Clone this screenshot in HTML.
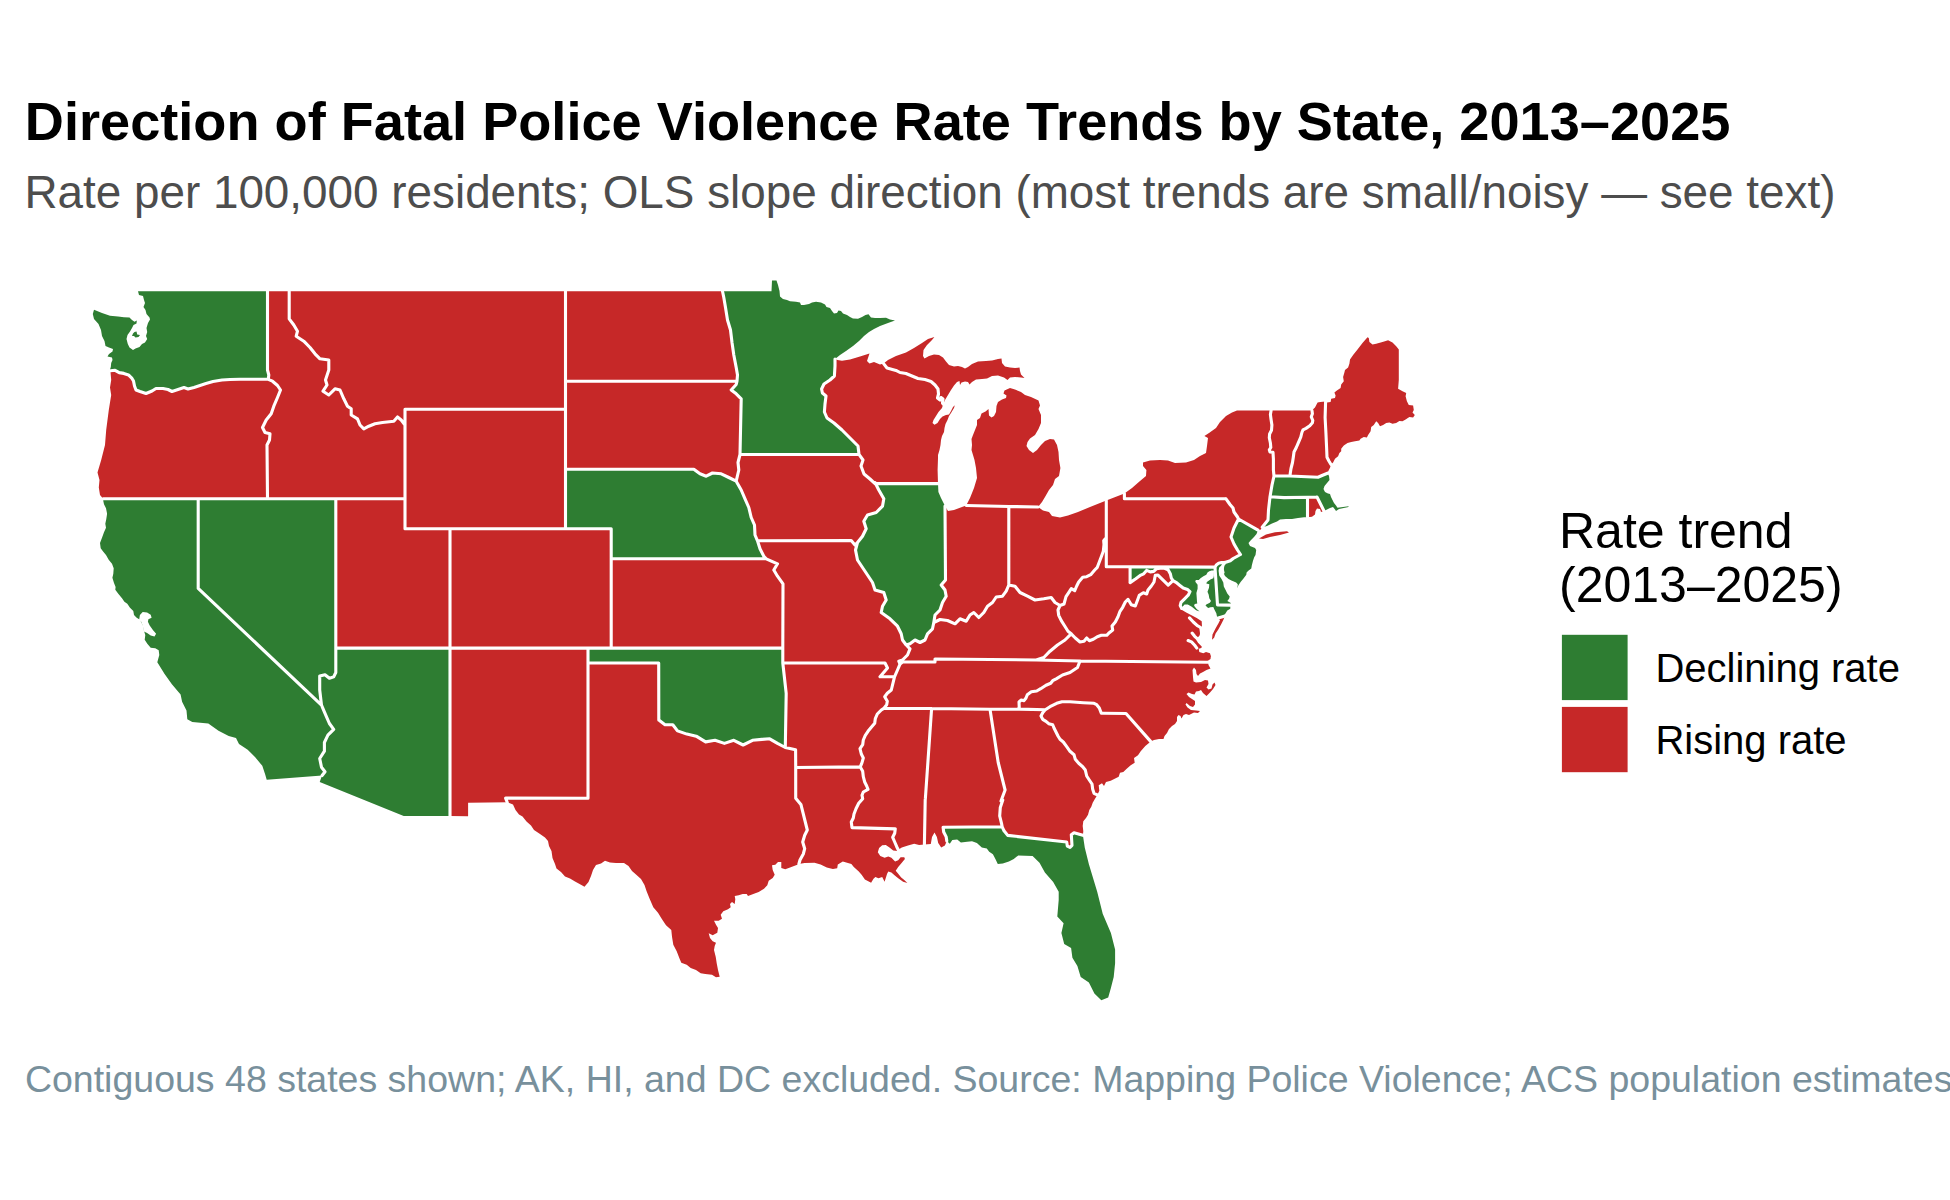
<!DOCTYPE html>
<html lang="en"><head><meta charset="utf-8"><title>Direction of Fatal Police Violence Rate Trends by State, 2013–2025</title>
<style>
html,body{margin:0;padding:0;background:#fff}
body{width:1950px;height:1200px;overflow:hidden;position:relative;font-family:"Liberation Sans",Arial,Helvetica,sans-serif}
svg{position:absolute;left:0;top:0}
text{font-family:"Liberation Sans",Arial,Helvetica,sans-serif}
</style></head><body>
<svg width="1950" height="1200" viewBox="0 0 1950 1200">
<rect width="1950" height="1200" fill="#fff"/>
<g id="map">
<path fill="#c62828" fill-rule="evenodd" d="M138,291.3 139,295 143,296 144,300 145,303 143.5,307 145.5,310 146.5,314 149.5,317.5 150,319.5 148,323 146.5,328 147.2,332 146,336 147.2,339 145,342.5 142,344 139.5,347 135.5,348.5 133,350 129.5,347.5 127.8,344 126.5,339 127.5,335 130,331.5 132,328 133.5,325 136.5,323.5 136.8,320.5 134.5,321.8 132,320 129.5,317.5 124,317.2 118,316.5 110,315.8 102,313 94,309.8 92.8,314 94,319 98.5,324 101,330 102,336 104.5,341 105.5,346 109,347.5 113,349 112.5,351.5 109,354 107.5,356.5 112,357.5 112.5,360 111.2,363 110.8,367 110,369.5 110.4,370.8 111.2,380 110,387.5 111.2,395 108.8,410 106.2,430 105,445 101.2,460 97.5,472.5 99.5,480 98.8,487.5 100,495 103.2,498.8 103.3,501 104,504.3 106,508.3 107.1,513.7 106.3,519 105.3,523.7 106,527.7 104,532.3 102,537.7 100,543 100.7,548.3 103.3,551.7 106,555 108.7,559.7 112,563.7 113.7,568.3 113.3,573.7 112.4,577.7 114,583 115.6,587 115.3,589.7 118.7,594.3 122,598.3 124.4,601.7 127.3,603.7 130,607.7 133.3,611 134,615 136.7,617.7 140,619.7 143.3,626.3 144,631 145.3,635 144.7,639.7 147.3,643.7 150.7,647.7 155.3,648.3 158.7,650.3 159.3,655 157.3,662.3 164.6,674 171.9,684.2 180.6,694.4 182.1,701.7 186.5,710.4 187.3,719.2 192.3,722.1 208.3,723.5 218.5,730.8 228.7,736.1 236,738.1 239,744 247.7,749.8 255,757.1 262.3,765.8 265.2,774.6 266.7,779.8 322.1,775.5 319.7,781.9 403.7,816 450,816 468.1,816.2 468.1,802.8 507.2,802.2 513,804.5 515.5,810 519,814.5 522.5,816.5 526.5,821.5 531,825.5 534,830 540,834 545,837.5 548,841 549,846 551.5,851 552.5,858 555,864 556.5,868.5 561,872 565,876.5 570,878.5 575,881.5 580.5,884.5 584.5,886.8 588.5,882 591,876 593,870 596,865 601,863.5 605,860.8 610,862.5 616,863 624,863 628.5,866 632,871 636,874.5 641,879 644.5,885 646.5,891 649.3,898 653.3,907.3 658,912.7 662,919.3 666,925.3 671.3,930 672,936.7 673.3,944.7 676.7,951.3 679.3,958 681.3,962.7 686.7,964.7 690.7,968 696,970 700.7,973.3 705.3,974 712,974.7 716,977.3 719.7,976.7 718,970 716.7,963.3 715.7,956.7 714,950 714.7,946 716,942.7 712.7,941.3 710,938 708.7,933.3 712.7,935.3 717.3,932.7 718,928 716,924.7 714,920.7 718.7,920.7 722,918.7 720.7,914.7 723.3,911.3 728,909.3 730.7,907.3 730,904 732,902 734.7,904 735.3,899.3 734.7,896 738.7,895.3 742.7,894 746.7,894 748,896 753.3,894 758.7,892 764,888.7 767.3,885.3 768.7,880.7 772.7,878 774.7,874.7 772.7,870 772,865.3 775.3,864.7 778,862 781.3,862 781.3,868 785.3,869.3 790.7,867.3 797.3,864.7 798.9,864 804.6,863 814.5,862.8 820.6,864.6 826.8,867.4 832.9,868.9 837.2,868.3 837.8,864.6 842.8,861.5 847.1,862.8 851.4,864 853.8,867.1 858.8,871.4 861.8,875.1 864.9,879.4 871.1,882.7 873.5,878.8 875.4,876.9 878.5,878.2 882.2,876.9 884.6,881.8 887.1,873.8 888.3,871.4 891.4,872.6 895.1,875.7 898.2,878.2 903.1,881.8 907.4,883.1 904.3,880 901.2,877.5 898.2,873.8 895.7,870.8 898.2,867.1 901.8,862.8 904.9,859.1 904.3,857.2 900.6,857.2 898.2,860.3 895.1,861.5 891.4,857.8 888.3,856.6 884.6,857.8 880.3,856 877.8,852.3 879.1,848 882.2,845.3 885.8,844.9 889.5,847.4 893.2,850.5 897.5,851.1 898.2,849.8 901.8,847.4 908,845.5 914.2,843.7 919.1,844.9 924.4,844.6 930.8,844.1 932,836.9 934.5,832.6 936.9,836.9 938.2,843.1 941.2,847.4 944.9,845.5 946.8,840.9 949.8,843.7 952.3,840 957.2,839.4 960.9,842.5 967.1,841.8 972,841.2 976.9,843.1 981.8,847.4 986.8,848.6 989.2,851.7 992.9,854.2 995.4,859.1 997.8,864 1002.8,863.4 1008.9,861.5 1013.8,859.1 1018.2,855.4 1032.6,855.9 1039.5,862.8 1044.9,872.4 1053.2,882.1 1058.7,891.7 1058.7,899.9 1057.3,916.4 1063.6,923.3 1061.4,932.9 1064.2,943.9 1071.1,948 1072.4,957.7 1077.4,965.9 1080.7,976.9 1088.9,982.4 1094.4,993.4 1101.3,1000.3 1108.2,997.5 1110.9,987.9 1113.7,976.9 1115.1,963.2 1115.1,949.4 1110.9,932.9 1102.7,913.7 1097.2,891.7 1088.9,864.2 1084.8,847.7 1082.9,835.3 1083.3,831.3 1082.7,826 1083.3,821.3 1086,818 1088,814.7 1089.3,810 1091.3,806.7 1092.7,802.7 1094.7,799.3 1097.3,794.9 1099.3,790.7 1098.7,785.3 1102,783.3 1104,786 1106,782 1110.7,780.7 1114.7,778.7 1118.7,776.7 1120,772.7 1123.3,772 1126.7,768.7 1130.7,765.3 1134.7,762.7 1134,758 1138,755.3 1140.7,751.3 1145.3,746 1150.8,741.6 1154,740 1159,739 1163.5,739 1164.5,736 1167,733 1169,729 1172,726 1175,724 1177,721 1177,717 1178.5,715 1180.5,716 1181.5,718.5 1183.5,715 1186,714 1189,715 1194,712.5 1198,713 1200,711 1196,710.5 1191,710 1187.5,707.5 1185.5,704.5 1186.5,703 1190,706 1193,707 1195,704.5 1195,701 1192,699 1189,697 1186.5,694 1188.5,692.5 1192,694 1194.5,694.5 1196,691.5 1199,691 1201,690 1203,693 1206.5,696 1210,692.5 1213,689 1215.5,685 1214.5,682.5 1212.5,684.5 1211.5,688.5 1208.5,689.5 1206.5,687.5 1208.5,684 1208,680.5 1205,680 1201,682 1196,682.5 1193.5,681.5 1193,677 1192.5,670 1194,667.5 1196,670 1196.5,674 1198,676 1200,673.5 1203,672 1206.5,670 1210.5,668.5 1208.5,665 1208.1,662.2 1207.5,661 1210.5,659 1211,655 1211,656.7 1210,653.3 1206,652 1203.3,653.3 1199.3,652 1198.7,648.7 1201.3,648 1201.9,646.7 1198,642.7 1196.3,640 1198,637.3 1199.7,635.3 1200,633.3 1199.3,628 1202,627 1201.7,621.2 1196.7,618.1 1192,615.5 1186.7,612.7 1182,610 1181.7,608.5 1182.5,606.8 1184.6,604.5 1187.8,604.5 1191.8,606.7 1196.1,610.3 1199.6,611.6 1196.4,608.7 1194.1,605.8 1194.7,604 1197.3,603.4 1197,601.7 1196.7,597 1196.4,592.9 1197.6,588.8 1197.6,584.8 1195.3,581.8 1195.8,580.1 1198.8,580.1 1200.5,578.3 1203.4,576.3 1206.3,574.8 1207.5,572.5 1209.3,571.3 1211.6,570.5 1214,570.6 1213.9,576 1213.3,578.3 1210.4,579.5 1206.9,582.1 1206.3,583.6 1209.3,584.2 1209,587.7 1207.5,591.8 1208.7,594.7 1209.3,598.2 1211,601.1 1209.8,602.8 1206.3,604.6 1205.5,605.5 1208.1,608.1 1210.4,607.2 1213.3,606.9 1214.5,609.8 1216.3,613.3 1217.4,618.3 1220.1,620.1 1218.5,623.2 1215.5,628.5 1212.5,634.5 1212,639.7 1214.1,637.7 1215.6,633.6 1218.3,629.6 1221.3,624.1 1223.3,620.1 1225,616 1223.8,615.7 1225.6,613.3 1227.3,610.4 1230.3,608.7 1230.3,605.1 1230.8,603.1 1227.3,601.1 1229.1,598.8 1229.7,596.4 1227.3,593.5 1225.6,590 1223.8,586.5 1223.3,582.4 1221.5,578.9 1219.2,575.4 1218.6,570.8 1219.2,567.5 1221.5,565.2 1223.8,567.8 1223.3,572.5 1225,576 1228.5,578.9 1232,580.7 1236.1,582.4 1237.8,584.2 1237.4,588.3 1238.4,585.3 1240.8,581.8 1243.7,578.3 1246.3,574.8 1246.6,572.5 1248.3,570.8 1251.3,568.4 1251.8,565.5 1253,560.8 1254.2,557.3 1255.5,555 1256.2,550 1255,548 1250,546 1248.5,543 1251,540 1254,537 1256.5,534 1258,530.2 1260,530 1261.2,529 1262.2,527.2 1267,526 1272,523.5 1277,521.5 1280,519.5 1286,519 1292,519 1298,518 1304,517.2 1307.5,517.3 1312,516.8 1315,514.5 1315.5,511 1317,508.5 1320,509 1321,512 1324,511 1326,510 1330,508 1333,507 1335,509.5 1336,511 1339,509 1348.5,507.1 1348.5,506.3 1337.5,507.8 1336,505.5 1334,503 1332.5,500 1331,497 1330,494 1328,493.5 1325,492 1323.5,489 1324.5,486 1327,483 1329.5,480 1329,476 1327.5,473.2 1328.1,471.5 1330,467.8 1331,464.5 1333.1,462.5 1335,458.8 1338.1,456.2 1339.4,453.1 1341.2,451.2 1341.2,448.8 1343.8,445.6 1347.5,443.1 1351.2,441.9 1355,441.2 1359.4,440.6 1360.6,438.8 1363.8,436.9 1366.9,437.5 1368.1,435 1370.6,431.2 1371.2,426.9 1373.8,425 1376.2,421.2 1378.1,423.1 1380,426.2 1383.1,425 1386.2,423.1 1389.4,422.5 1392.5,423.8 1396.2,423.1 1399.4,421 1402.5,421.2 1405.6,419.4 1409.4,416.9 1413.1,417.5 1414.8,415 1412.5,412.5 1413.8,410 1413.1,405.6 1408.8,405 1406.9,401.2 1405.6,396.2 1406.2,393.1 1402.5,391.2 1398.1,388.8 1398.8,380 1398.8,349.4 1396.2,346.2 1392.5,342.5 1388.1,340.2 1382.5,341.9 1376.2,343.8 1372.5,344.4 1369.4,341.9 1368.8,338.1 1367.5,337.2 1362.5,343.1 1357.5,349.4 1353.1,355 1350,359.4 1349.4,363.8 1348.1,367.5 1345,370 1344.4,372.5 1343.1,376.9 1343.8,381.2 1341.2,384.4 1340.6,388.1 1336.9,390.6 1334.4,392.5 1335.6,395.6 1335,398.1 1331.2,398.8 1330.6,401.9 1326.9,402.5 1325.6,401.5 1320.3,402.1 1317.6,402.5 1316.4,404.8 1315,407.4 1313.1,409.3 1312,410.6 1271.1,410.6 1237,410.6 1232,412.4 1226,416 1220,422 1216,428 1209,433 1204.4,436 1208,438 1207,446 1206,453 1200,456 1194,460 1186,462.4 1175,463 1168,460.6 1160,460 1150,460.4 1143,462.4 1143,466 1146.4,470 1146,476 1140,481 1132,488 1124.4,493.6 1106.3,500.5 1100,503 1090,507 1078,512 1068,515.6 1060,517.6 1052,516 1049,512 1043,510.4 1038,507 1042,502 1045,497 1049,490 1053,485 1055,479 1059,476 1060.4,468 1059,460 1058.5,452 1057,445 1054,439.5 1050,439 1045,441 1041,445 1037,450 1033,453 1029,450 1026.5,446 1027.5,442 1030,438.5 1035,435 1038.5,429 1041,423 1041,415 1038.5,409 1040,405.5 1038.5,400.5 1031,397 1025,395 1021,392 1015,389.5 1010,388 1004.5,390.5 1003.5,393.5 1006.5,395.5 1006,398 1002,399.5 998,402 996.5,406 996,412 994,416 991.5,417.5 989,415.5 988.5,409 985.5,411.5 981.5,413.5 980,418 977,420 977,425 975,430 973,435 971.5,439 972,445 971.5,450 973,455 974.5,460 976,468 977,478 974,488 970,498 966.2,505.5 962,507 954,510 948,511 945,506 941,498 938.4,492 938,483.6 937.6,470 938,458 938,455 939.5,450 940.5,445 941,440 942,436 944,432 944.5,428 945.5,424 947.5,420 949,416 951,413 954,408 954.8,405.2 953,407 951,411 949,414.5 946,415 942.5,416.5 940,419 937.5,423 934.5,424.8 932.5,423 933.5,420 936,416 938.5,412 942,408 943.2,404 945,400 948,395 951,390 954,385.5 957,382 959.5,381 960,385 961.5,382.5 965,381.5 968,382 969.5,384.5 972,382 976,379.5 982,379 987,378.5 992,376 998,375.5 1004,377.5 1007.5,380 1010,377.5 1015,377 1021,377.5 1024.5,378 1021,374.5 1020,371 1019.5,367.5 1015,368 1010,367.5 1005,366.5 1002,363 1001.5,358.5 998,359 992,360.5 986,361 978,361.5 972,364 968,367 965,368.5 962,367 958,366 954,366.5 949,365 946,361.5 943,357.5 939,355 934,354.5 929,356 924.5,358.5 923,356 923.5,350 927,345 932,340 934.4,337 928,339 922,343 914,348 906,352.4 896,356 888,360 883.6,363.6 880,364.5 874,362 869.5,363.5 867,361 869.5,353.5 860,356.5 850,359.5 842,360.8 837.5,360 835,359 840,355 846,351 853,346 859,341 864,336 869,332 874,329 880,326 888,323 895,320.5 890,319.5 886,317.8 880,318 875,318 871,317.5 868.5,314.2 865.5,315 862,317 858,318.8 853,318.5 850,317 847,315 843,313.5 841,311 838.5,310.5 837,313 834,313.5 832,311 830,308 826.5,307 825,304.5 821,302.5 816,301.8 812,302.5 809,304 804,305 801,305 800,302.5 796,301.8 790,301.2 787,300 783,299 780,296.5 779.5,291 778,285 776.5,280.5 772,280.5 771.5,291.3 722.5,291.3 565.5,291.3 289.2,291.3 267.5,291.3 138,291.3Z M138,291.3 139,295 143,296 144,300 145,303 143.5,307 145.5,310 146.5,314 149.5,317.5 150,319.5 148,323 146.5,328 147.2,332 146,336 147.2,339 145,342.5 142,344 139.5,347 135.5,348.5 133,350 129.5,347.5 127.8,344 126.5,339 127.5,335 130,331.5 132,328 133.5,325 136.5,323.5 136.8,320.5 134.5,321.8 132,320 129.5,317.5 124,317.2 118,316.5 110,315.8 102,313 94,309.8 92.8,314 94,319 98.5,324 101,330 102,336 104.5,341 105.5,346 109,347.5 113,349 112.5,351.5 109,354 107.5,356.5 112,357.5 112.5,360 111.2,363 110.8,367 110,369.5 110.4,370.8 115.1,370.3 119.2,372.6 123.8,373.4 128.5,374.9 132,378.4 133.5,381 134.5,386 136,390 140,391.5 146,393.5 152,391 156,388.5 163,388.5 168,389.5 172,391.5 178,389.5 184,387.5 188,389 194,387.5 200,385.5 206,383.5 213,381.5 222,380 230,379.5 240,379.2 268.3,379.3 268.8,375 267.5,370 267.5,291.3Z M103.2,498.8 103.3,501 104,504.3 106,508.3 107.1,513.7 106.3,519 105.3,523.7 106,527.7 104,532.3 102,537.7 100,543 100.7,548.3 103.3,551.7 106,555 108.7,559.7 112,563.7 113.7,568.3 113.3,573.7 112.4,577.7 114,583 115.6,587 115.3,589.7 118.7,594.3 122,598.3 124.4,601.7 127.3,603.7 130,607.7 133.3,611 134,615 136.7,617.7 140,619.7 143.3,626.3 144,631 145.3,635 144.7,639.7 147.3,643.7 150.7,647.7 155.3,648.3 158.7,650.3 159.3,655 157.3,662.3 164.6,674 171.9,684.2 180.6,694.4 182.1,701.7 186.5,710.4 187.3,719.2 192.3,722.1 208.3,723.5 218.5,730.8 228.7,736.1 236,738.1 239,744 247.7,749.8 255,757.1 262.3,765.8 265.2,774.6 266.7,779.8 322.1,775.5 319.7,781.9 403.7,816 450,816 450,648.1 335.8,648.1 335.8,498.8Z M565.5,469.2 693.8,469.2 700,473.8 706.2,476.2 712.5,473 721.2,473.8 728.8,477.5 736.2,481.2 741.2,490 745,498.8 748.8,507.5 751.2,517.5 754.5,525 755,535 757.5,540.8 760,548.8 763.8,556.2 766.2,558.8 611.2,558.8 611.2,528.8 565.5,528.8Z M588,648.1 782.8,648.1 782.8,663 786.2,693.4 785.3,747.5 777.5,743.4 769.7,738.8 761.9,739.4 752.5,740.3 743.1,745 733.8,740.3 724.4,743.4 715,740.3 705.6,741.9 696.2,736.2 686.9,734.1 677.5,730.9 672.8,724.7 665,724.7 658.8,720 658.7,663 588,663Z M737,381.2 737.5,375 736.2,367.5 733.8,355 732,342.5 730.5,330 727.5,320 725.5,307.5 723.8,297.5 722.5,291.3 771.5,291.3 772,280.5 776.5,280.5 778,285 779.5,291 780,296.5 783,299 787,300 790,301.2 796,301.8 800,302.5 801,305 804,305 809,304 812,302.5 816,301.8 821,302.5 825,304.5 826.5,307 830,308 832,311 834,313.5 837,313 838.5,310.5 841,311 843,313.5 847,315 850,317 853,318.5 858,318.8 862,317 865.5,315 868.5,314.2 871,317.5 875,318 880,318 886,317.8 890,319.5 895,320.5 888,323 880,326 874,329 869,332 864,336 859,341 853,346 846,351 840,355 835,359 835,366 834.4,376 830,380 824,384 821.6,389 822.4,393 826,396 825,404 824.4,412 827,418 834,423 842,430 850,438 858,446 859,454.4 740,454.5 741.2,398.8 736.2,393.8 731.2,390 736.2,384.5 737,381.2Z M875,483.6 938,483.6 938.4,492 941,498 945,506 945.5,580 941.2,585 945,590 946.2,596.2 942.5,602.5 940,610 935,615 933.8,622.5 932.5,628.8 927.5,633.8 925,640 920,642.5 915,640 910,643.8 906.2,645 902.5,640 901.2,633.8 897.5,626.2 890,618.8 881.2,612.5 882.5,606.2 886.2,600 883.8,592.5 875,590 872.5,582.5 867.5,575 862.5,567.5 857.5,560 855.5,550 857.5,542.5 862.5,536.2 866.2,528.8 863.8,521.2 867.5,515 876.2,512.5 882.5,506.2 883.8,498.8 878.8,490 875,482.5 875,483.6Z M946.8,840.9 949.8,843.7 952.3,840 957.2,839.4 960.9,842.5 967.1,841.8 972,841.2 976.9,843.1 981.8,847.4 986.8,848.6 989.2,851.7 992.9,854.2 995.4,859.1 997.8,864 1002.8,863.4 1008.9,861.5 1013.8,859.1 1018.2,855.4 1032.6,855.9 1039.5,862.8 1044.9,872.4 1053.2,882.1 1058.7,891.7 1058.7,899.9 1057.3,916.4 1063.6,923.3 1061.4,932.9 1064.2,943.9 1071.1,948 1072.4,957.7 1077.4,965.9 1080.7,976.9 1088.9,982.4 1094.4,993.4 1101.3,1000.3 1108.2,997.5 1110.9,987.9 1113.7,976.9 1115.1,963.2 1115.1,949.4 1110.9,932.9 1102.7,913.7 1097.2,891.7 1088.9,864.2 1084.8,847.7 1082.9,835.3 1074,832.7 1071.3,834.7 1072,845.3 1070,847.3 1067.3,846 1066.7,842 1007.7,835.4 1004,830.8 1002.2,826.8 943.1,827.3 943.7,832 946.2,836.9 946.8,840.9Z M1130.1,566.8 1215,567.3 1217.5,604.9 1230.3,605.1 1230.3,608.7 1227.3,610.4 1225.6,613.3 1223.8,615.7 1225,616 1217.4,618.3 1216.3,613.3 1214.5,609.8 1213.3,606.9 1210.4,607.2 1208.1,608.1 1205.5,605.5 1206.3,604.6 1209.8,602.8 1211,601.1 1209.3,598.2 1208.7,594.7 1207.5,591.8 1209,587.7 1209.3,584.2 1206.3,583.6 1206.9,582.1 1210.4,579.5 1213.3,578.3 1213.9,576 1214,570.6 1211.6,570.5 1209.3,571.3 1207.5,572.5 1206.3,574.8 1203.4,576.3 1200.5,578.3 1198.8,580.1 1195.8,580.1 1195.3,581.8 1197.6,584.8 1197.6,588.8 1196.4,592.9 1196.7,597 1197,601.7 1197.3,603.4 1194.7,604 1194.1,605.8 1196.4,608.7 1199.6,611.6 1196.1,610.3 1191.8,606.7 1187.8,604.5 1184.6,604.5 1182.5,606.8 1181.7,608.5 1180.2,605.6 1181,602.4 1184.6,598.8 1188.2,595.2 1190,591.6 1187.5,589.5 1183.2,588 1179.6,585.2 1176,582.3 1173,580.7 1171.3,578 1170.3,573.7 1168.1,569.7 1164.5,568.3 1160.2,568.1 1156.6,568.6 1153.7,571.4 1150.2,571.9 1146.6,570.4 1143.7,573.8 1140.8,575.1 1135.8,578.7 1130.1,582.6 1130.1,566.8Z M1215,567.3 1216.3,564.9 1218.6,563.2 1221.5,562.5 1225,562.5 1221.5,565.2 1219.2,567.5 1218.6,570.8 1219.2,575.4 1221.5,578.9 1223.3,582.4 1223.8,586.5 1225.6,590 1227.3,593.5 1229.7,596.4 1229.1,598.8 1227.3,601.1 1230.8,603.1 1230.3,605.1 1217.5,604.9Z M1221.5,565.2 1223.8,567.8 1223.3,572.5 1225,576 1228.5,578.9 1232,580.7 1236.1,582.4 1237.8,584.2 1237.4,588.3 1238.4,585.3 1240.8,581.8 1243.7,578.3 1246.3,574.8 1246.6,572.5 1248.3,570.8 1251.3,568.4 1251.8,565.5 1253,560.8 1254.2,557.3 1255.5,555 1256.2,550 1255,548 1250,546 1248.5,543 1251,540 1254,537 1256.5,534 1258,530.2 1238.5,519 1236,524 1234,528 1231,537 1234,544 1237.5,550 1240.5,554.5 1233.2,558.5 1230.3,560.8 1225,562.5Z M1262.2,527.2 1267,526 1272,523.5 1277,521.5 1280,519.5 1286,519 1292,519 1298,518 1304,517.2 1307.5,517.3 1307.5,497.2 1284,497.6 1270,496.8 1268.5,510 1268,520 1262.2,527.2Z M1324,511 1326,510 1330,508 1333,507 1335,509.5 1336,511 1339,509 1348.5,507.1 1348.5,506.3 1337.5,507.8 1336,505.5 1334,503 1332.5,500 1331,497 1330,494 1328,493.5 1325,492 1323.5,489 1324.5,486 1327,483 1329.5,480 1329,476 1327.5,473.2 1322,475.5 1318,477.2 1290,476 1274,476 1272,485 1270,496.8 1284,497.6 1307.5,497.2 1317,497 1318.5,500 1320,503 1322,507 1324,511Z"/>
<path fill="#c62828" d="M1259,538.5 1266,534.5 1275,532.2 1287,531.2 1289,532.5 1280,535 1270,537 1263,539Z"/>
<path fill="#2e7d32" d="M138,291.3 139,295 143,296 144,300 145,303 143.5,307 145.5,310 146.5,314 149.5,317.5 150,319.5 148,323 146.5,328 147.2,332 146,336 147.2,339 145,342.5 142,344 139.5,347 135.5,348.5 133,350 129.5,347.5 127.8,344 126.5,339 127.5,335 130,331.5 132,328 133.5,325 136.5,323.5 136.8,320.5 134.5,321.8 132,320 129.5,317.5 124,317.2 118,316.5 110,315.8 102,313 94,309.8 92.8,314 94,319 98.5,324 101,330 102,336 104.5,341 105.5,346 109,347.5 113,349 112.5,351.5 109,354 107.5,356.5 112,357.5 112.5,360 111.2,363 110.8,367 110,369.5 110.4,370.8 115.1,370.3 119.2,372.6 123.8,373.4 128.5,374.9 132,378.4 133.5,381 134.5,386 136,390 140,391.5 146,393.5 152,391 156,388.5 163,388.5 168,389.5 172,391.5 178,389.5 184,387.5 188,389 194,387.5 200,385.5 206,383.5 213,381.5 222,380 230,379.5 240,379.2 268.3,379.3 268.8,375 267.5,370 267.5,291.3Z M103.2,498.8 103.3,501 104,504.3 106,508.3 107.1,513.7 106.3,519 105.3,523.7 106,527.7 104,532.3 102,537.7 100,543 100.7,548.3 103.3,551.7 106,555 108.7,559.7 112,563.7 113.7,568.3 113.3,573.7 112.4,577.7 114,583 115.6,587 115.3,589.7 118.7,594.3 122,598.3 124.4,601.7 127.3,603.7 130,607.7 133.3,611 134,615 136.7,617.7 140,619.7 143.3,626.3 144,631 145.3,635 144.7,639.7 147.3,643.7 150.7,647.7 155.3,648.3 158.7,650.3 159.3,655 157.3,662.3 164.6,674 171.9,684.2 180.6,694.4 182.1,701.7 186.5,710.4 187.3,719.2 192.3,722.1 208.3,723.5 218.5,730.8 228.7,736.1 236,738.1 239,744 247.7,749.8 255,757.1 262.3,765.8 265.2,774.6 266.7,779.8 322.1,775.5 319.7,781.9 403.7,816 450,816 450,648.1 335.8,648.1 335.8,498.8Z M565.5,469.2 693.8,469.2 700,473.8 706.2,476.2 712.5,473 721.2,473.8 728.8,477.5 736.2,481.2 741.2,490 745,498.8 748.8,507.5 751.2,517.5 754.5,525 755,535 757.5,540.8 760,548.8 763.8,556.2 766.2,558.8 611.2,558.8 611.2,528.8 565.5,528.8Z M588,648.1 782.8,648.1 782.8,663 786.2,693.4 785.3,747.5 777.5,743.4 769.7,738.8 761.9,739.4 752.5,740.3 743.1,745 733.8,740.3 724.4,743.4 715,740.3 705.6,741.9 696.2,736.2 686.9,734.1 677.5,730.9 672.8,724.7 665,724.7 658.8,720 658.7,663 588,663Z M737,381.2 737.5,375 736.2,367.5 733.8,355 732,342.5 730.5,330 727.5,320 725.5,307.5 723.8,297.5 722.5,291.3 771.5,291.3 772,280.5 776.5,280.5 778,285 779.5,291 780,296.5 783,299 787,300 790,301.2 796,301.8 800,302.5 801,305 804,305 809,304 812,302.5 816,301.8 821,302.5 825,304.5 826.5,307 830,308 832,311 834,313.5 837,313 838.5,310.5 841,311 843,313.5 847,315 850,317 853,318.5 858,318.8 862,317 865.5,315 868.5,314.2 871,317.5 875,318 880,318 886,317.8 890,319.5 895,320.5 888,323 880,326 874,329 869,332 864,336 859,341 853,346 846,351 840,355 835,359 835,366 834.4,376 830,380 824,384 821.6,389 822.4,393 826,396 825,404 824.4,412 827,418 834,423 842,430 850,438 858,446 859,454.4 740,454.5 741.2,398.8 736.2,393.8 731.2,390 736.2,384.5 737,381.2Z M875,483.6 938,483.6 938.4,492 941,498 945,506 945.5,580 941.2,585 945,590 946.2,596.2 942.5,602.5 940,610 935,615 933.8,622.5 932.5,628.8 927.5,633.8 925,640 920,642.5 915,640 910,643.8 906.2,645 902.5,640 901.2,633.8 897.5,626.2 890,618.8 881.2,612.5 882.5,606.2 886.2,600 883.8,592.5 875,590 872.5,582.5 867.5,575 862.5,567.5 857.5,560 855.5,550 857.5,542.5 862.5,536.2 866.2,528.8 863.8,521.2 867.5,515 876.2,512.5 882.5,506.2 883.8,498.8 878.8,490 875,482.5 875,483.6Z M946.8,840.9 949.8,843.7 952.3,840 957.2,839.4 960.9,842.5 967.1,841.8 972,841.2 976.9,843.1 981.8,847.4 986.8,848.6 989.2,851.7 992.9,854.2 995.4,859.1 997.8,864 1002.8,863.4 1008.9,861.5 1013.8,859.1 1018.2,855.4 1032.6,855.9 1039.5,862.8 1044.9,872.4 1053.2,882.1 1058.7,891.7 1058.7,899.9 1057.3,916.4 1063.6,923.3 1061.4,932.9 1064.2,943.9 1071.1,948 1072.4,957.7 1077.4,965.9 1080.7,976.9 1088.9,982.4 1094.4,993.4 1101.3,1000.3 1108.2,997.5 1110.9,987.9 1113.7,976.9 1115.1,963.2 1115.1,949.4 1110.9,932.9 1102.7,913.7 1097.2,891.7 1088.9,864.2 1084.8,847.7 1082.9,835.3 1074,832.7 1071.3,834.7 1072,845.3 1070,847.3 1067.3,846 1066.7,842 1007.7,835.4 1004,830.8 1002.2,826.8 943.1,827.3 943.7,832 946.2,836.9 946.8,840.9Z M1130.1,566.8 1215,567.3 1217.5,604.9 1230.3,605.1 1230.3,608.7 1227.3,610.4 1225.6,613.3 1223.8,615.7 1225,616 1217.4,618.3 1216.3,613.3 1214.5,609.8 1213.3,606.9 1210.4,607.2 1208.1,608.1 1205.5,605.5 1206.3,604.6 1209.8,602.8 1211,601.1 1209.3,598.2 1208.7,594.7 1207.5,591.8 1209,587.7 1209.3,584.2 1206.3,583.6 1206.9,582.1 1210.4,579.5 1213.3,578.3 1213.9,576 1214,570.6 1211.6,570.5 1209.3,571.3 1207.5,572.5 1206.3,574.8 1203.4,576.3 1200.5,578.3 1198.8,580.1 1195.8,580.1 1195.3,581.8 1197.6,584.8 1197.6,588.8 1196.4,592.9 1196.7,597 1197,601.7 1197.3,603.4 1194.7,604 1194.1,605.8 1196.4,608.7 1199.6,611.6 1196.1,610.3 1191.8,606.7 1187.8,604.5 1184.6,604.5 1182.5,606.8 1181.7,608.5 1180.2,605.6 1181,602.4 1184.6,598.8 1188.2,595.2 1190,591.6 1187.5,589.5 1183.2,588 1179.6,585.2 1176,582.3 1173,580.7 1171.3,578 1170.3,573.7 1168.1,569.7 1164.5,568.3 1160.2,568.1 1156.6,568.6 1153.7,571.4 1150.2,571.9 1146.6,570.4 1143.7,573.8 1140.8,575.1 1135.8,578.7 1130.1,582.6 1130.1,566.8Z M1215,567.3 1216.3,564.9 1218.6,563.2 1221.5,562.5 1225,562.5 1221.5,565.2 1219.2,567.5 1218.6,570.8 1219.2,575.4 1221.5,578.9 1223.3,582.4 1223.8,586.5 1225.6,590 1227.3,593.5 1229.7,596.4 1229.1,598.8 1227.3,601.1 1230.8,603.1 1230.3,605.1 1217.5,604.9Z M1221.5,565.2 1223.8,567.8 1223.3,572.5 1225,576 1228.5,578.9 1232,580.7 1236.1,582.4 1237.8,584.2 1237.4,588.3 1238.4,585.3 1240.8,581.8 1243.7,578.3 1246.3,574.8 1246.6,572.5 1248.3,570.8 1251.3,568.4 1251.8,565.5 1253,560.8 1254.2,557.3 1255.5,555 1256.2,550 1255,548 1250,546 1248.5,543 1251,540 1254,537 1256.5,534 1258,530.2 1238.5,519 1236,524 1234,528 1231,537 1234,544 1237.5,550 1240.5,554.5 1233.2,558.5 1230.3,560.8 1225,562.5Z M1262.2,527.2 1267,526 1272,523.5 1277,521.5 1280,519.5 1286,519 1292,519 1298,518 1304,517.2 1307.5,517.3 1307.5,497.2 1284,497.6 1270,496.8 1268.5,510 1268,520 1262.2,527.2Z M1324,511 1326,510 1330,508 1333,507 1335,509.5 1336,511 1339,509 1348.5,507.1 1348.5,506.3 1337.5,507.8 1336,505.5 1334,503 1332.5,500 1331,497 1330,494 1328,493.5 1325,492 1323.5,489 1324.5,486 1327,483 1329.5,480 1329,476 1327.5,473.2 1322,475.5 1318,477.2 1290,476 1274,476 1272,485 1270,496.8 1284,497.6 1307.5,497.2 1317,497 1318.5,500 1320,503 1322,507 1324,511Z M134.5,332 136.5,331.5 137.2,334.5 140,335 138.5,337 135.5,337.5 134,336 132,336 133,333.5Z"/>
<path fill="#fff" d="M139.1,620.1 139.9,615 142.7,612.1 147.1,612.6 150.7,614.7 151.6,617.7 148.4,619.3 147.9,621.7 149.7,625.4 152.9,629.9 156.1,633.7 154.5,636.6 150.7,635.5 147.1,632.9 143.9,631.5 142.9,626.3 141.2,621.7Z"/>
<path fill="none" stroke="#fff" stroke-width="3.1" stroke-linejoin="round" stroke-linecap="round" d="M110.4,370.8 115.1,370.3 119.2,372.6 123.8,373.4 128.5,374.9 132,378.4 133.5,381 134.5,386 136,390 140,391.5 146,393.5 152,391 156,388.5 163,388.5 168,389.5 172,391.5 178,389.5 184,387.5 188,389 194,387.5 200,385.5 206,383.5 213,381.5 222,380 230,379.5 240,379.2 268.3,379.3 M267.5,291.3 267.5,370 268.8,375 268.3,379.3 M268.3,379.3 272.5,381.2 277.5,385.5 280.5,390 277.5,397.5 273.8,406.2 271.2,413.8 266.2,420 262.5,427.5 265,432.5 270,433.8 269.5,440 267,445 267.5,498.8 M289.2,291.3 289.2,318.8 293.8,325 297.5,331.2 296.2,336.2 303.8,341.2 310,347.5 315,353.8 320,358.8 328.8,360 328.8,370 325.5,380 327,385 323,391.2 328.8,395 335,388.8 340,390 343.8,398.8 347.5,406.2 351.2,408.8 351.2,415 357.5,418.8 360,425 363.8,428.8 368.8,426.2 375,423.8 382.5,422.5 393.8,421.2 397.5,417 401.2,420 405,425 M103.2,498.8 405,498.8 M198.2,498.8 198.2,588.4 321.5,705.2 M335.8,498.8 335.8,648.1 M335.8,648.1 335.8,672.5 333.7,676.9 329.4,678.3 325,674.8 319.7,676 319.7,690 321.5,705.2 M321.5,705.2 325,713.3 329.4,723.5 333.7,729.4 327.9,735.2 324.4,742.5 324.4,751.2 319.7,758.5 321.5,767.3 325,771.7 322.1,775.5 M450,648.1 450,816 M335.8,648.1 450,648.1 M450,648.1 588,648.1 M405,409.2 405,528.8 M450,528.8 450,648.1 M405,528.8 611.2,528.8 M405,409.2 565.5,409.2 M565.5,291.3 565.5,528.8 M565.5,381.2 737,381.2 M565.5,469.2 693.8,469.2 700,473.8 706.2,476.2 712.5,473 721.2,473.8 728.8,477.5 736.2,481.2 M736.2,481.2 738.8,470 738,462.5 740,454.5 M740,454.5 741.2,398.8 736.2,393.8 731.2,390 736.2,384.5 737,381.2 M737,381.2 737.5,375 736.2,367.5 733.8,355 732,342.5 730.5,330 727.5,320 725.5,307.5 723.8,297.5 722.5,291.3 M611.2,528.8 611.2,558.8 M611.2,558.8 766.2,558.8 M736.2,481.2 741.2,490 745,498.8 748.8,507.5 751.2,517.5 754.5,525 755,535 757.5,540.8 M757.5,540.8 760,548.8 763.8,556.2 766.2,558.8 M611.2,558.8 611.2,648.1 M766.2,558.8 777.5,563.8 773.8,570 777.5,576.2 783,583.8 782.8,648.1 M588,648.1 782.8,648.1 M782.8,648.1 782.8,663 M588,648.1 588,798.2 M588,663 658.7,663 M658.7,663 658.8,720 M658.8,720 665,724.7 672.8,724.7 677.5,730.9 686.9,734.1 696.2,736.2 705.6,741.9 715,740.3 724.4,743.4 733.8,740.3 743.1,745 752.5,740.3 761.9,739.4 769.7,738.8 777.5,743.4 785.3,747.5 M782.8,663 786.2,693.4 785.3,747.5 M785.3,747.5 795.6,749.7 795.7,767.5 M795.7,767.5 860.3,766.9 M795.7,767.5 795.7,798.2 800.9,804.4 807.3,830 804.7,835.3 802.7,842 804.7,848.7 803.3,854 800,860 798.9,864 M588,798.2 505.6,798.1 507.2,802.2 M740,454.5 859,454.4 M757.5,540.8 851.2,540.5 855,545 857.5,542.5 M835,359 835,366 834.4,376 830,380 824,384 821.6,389 822.4,393 826,396 825,404 824.4,412 827,418 834,423 842,430 850,438 858,446 859,454.4 M859,454.4 863,460 861,466 864,474 870,479 875,483.6 M875,483.6 875,482.5 878.8,490 883.8,498.8 882.5,506.2 876.2,512.5 867.5,515 863.8,521.2 866.2,528.8 862.5,536.2 857.5,542.5 M875,483.6 938,483.6 M857.5,542.5 855.5,550 857.5,560 862.5,567.5 867.5,575 872.5,582.5 875,590 883.8,592.5 886.2,600 882.5,606.2 881.2,612.5 890,618.8 897.5,626.2 901.2,633.8 902.5,640 906.2,645 M906.2,645 910,648.8 907.5,655 902.5,660 898.8,661.2 900,664.2 M900,664.2 897.5,670 894.5,676.8 M782.8,663 885,663 887.5,668 880,676.8 894.5,676.8 M894.5,676.8 891.3,690 887.3,693.3 884.7,696.7 887.3,701.3 886.7,704.7 883.8,708.4 M883.8,708.4 881.3,710 877.3,714 875.3,718.7 874.7,723.3 871.3,727.3 868,731.3 865.3,735.3 863.3,740 862.7,744.7 860,748.7 861.3,754 863.3,758 862,762.7 860.3,766.9 M860.3,766.9 862.7,771.3 863.3,776.7 864.7,782 866.7,786 868,789.3 863.3,792 862,795.3 862.7,798.7 858.7,803.3 856,808.7 854,814 853.3,818 851.3,822 852,827.6 895.3,828.9 894.7,833.3 892.7,837.3 894.7,842 896.7,846.7 898.2,849.8 M945,506 945.5,580 941.2,585 945,590 946.2,596.2 942.5,602.5 940,610 935,615 933.8,622.5 M933.8,622.5 932.5,628.8 927.5,633.8 925,640 920,642.5 915,640 910,643.8 906.2,645 M933.8,622.5 940,619.5 947.5,620.5 955,623.8 960,618.8 966.2,621.2 970,615 973.8,612.5 978.8,617.5 983.8,612.5 987.5,606.2 992.5,602.5 996.2,597 1002.5,596.2 1006.2,591.2 1008.8,585 M1008.8,506.5 1008.8,585 M966.2,505.5 1008.8,506.5 M1008.8,506.5 1038,507 M1008.8,585 1015,586.2 1020,592.5 1027.5,596.2 1035,600 1043.8,598.8 1051.2,597.5 1055,602.5 1060,605.5 M1060,605.5 1064,604 1066,596.7 1068.7,592.7 1071.3,588.7 1074.7,590.7 1076.7,586 1078.7,582 1082.7,577.3 1086.7,576.7 1090.7,574.7 1094.7,570 1097.3,567.3 1099.3,562 1101.3,556.7 1103.3,551.3 1104,544.7 1103.7,540.7 1105.3,538.7 1106.3,538 M1106.3,500.5 1106.3,538 M1106.3,538 1106.3,566.8 M1060,605.5 1058,610 1058.7,615.3 1061.3,620.7 1064.7,626 1068,631.3 1071.2,633.8 M1071.2,633.8 1065,640 1057.5,645 1050,651.2 1043.8,657.5 1036.2,660 M900,664.2 902.5,662 935,662 935,659 1036.2,660 M1036.2,660 1080,661 M1080,661 1077.5,667.5 1070,672.5 1062.5,675 1056.2,678.8 1052.7,680.7 1050.7,683.3 1046,685.3 1040.7,688.7 1036.7,691 1031.3,691.7 1027.3,694.7 1026,698 1024,700.7 1021.3,700 1019,702 1019.3,709.1 M883.8,708.4 931.6,708.5 990,709.2 1019.3,709.1 M931.6,708.5 925.4,798.2 925.2,800 924.4,844.6 M990,709.2 998.2,762.5 1005.1,790 1001,801 1002.8,800 1000.3,807.4 999.7,816 1001.5,823.4 1002.2,826.8 M946.8,840.9 946.2,836.9 943.7,832 943.1,827.3 1002.2,826.8 M1002.2,826.8 1004,830.8 1007.7,835.4 1066.7,842 1067.3,846 1070,847.3 1072,845.3 1071.3,834.7 1074,832.7 1082.9,835.3 M1019.3,709.1 1045.3,709.8 M1045.3,709.8 1050,706.7 1056.7,703.3 1062,701.7 1070,701.7 1083.3,702.7 1094,703.3 1096.7,704.7 1099.3,708 1101.3,713.3 1103,713.2 1126,713.5 1150.8,741.6 M1045.3,709.8 1042.7,712.7 1041,716 1042.7,719.3 1046,721.3 1048.7,723.7 1052.7,724.7 1054,728 1056,732 1058,736 1060,739.3 1063.3,742 1066.7,746.7 1070,751.3 1074,754.7 1075.3,759.3 1078.7,763.3 1082.7,766.7 1085.3,770 1086.7,776 1089.3,780 1092,784 1092.7,789.3 1094,793.3 1097.3,794.9 M1080,661 1208.1,662.2 M1217.4,618.3 1225,616 M1215,567.3 1217.5,604.9 1230.3,605.1 M1215,567.3 1216.3,564.9 1218.6,563.2 1221.5,562.5 1225,562.5 M1225,562.5 1223,565.2 1222.2,569 1223,572.5 M1106.3,566.8 1130.1,566.8 1215,567.1 M1130.1,566.8 1130.1,582.6 M1130.1,582.6 1135.8,578.7 1140.8,575.1 1143.7,573.8 1146.6,570.4 1150.2,571.9 1153.7,571.4 1156.6,568.6 1160.2,568.1 1164.5,568.3 1168.1,569.7 1170.3,573.7 1171.3,578 1173,580.7 M1173,580.7 1176,582.3 1179.6,585.2 1183.2,588 1187.5,589.5 1190,591.6 1188.2,595.2 1184.6,598.8 1181,602.4 1180.2,605.6 1181.7,608.5 M1173,580.7 1168.2,585.2 1163.1,580.1 1158,575.1 1155.3,575.3 1154,582 1151.3,586 1148,590 1146.7,594 1143.3,592.7 1139.3,595.3 1137.3,600.7 1135.3,606 1131.3,604.7 1128,599.3 1125.3,602 1122.7,607.3 1120,611.3 1118,616.7 1115.3,622 1112,626 1112.7,630 1109.3,632.7 1106.7,635.3 1101.3,635.3 1097.3,636.7 1093.3,639.3 1089.3,640.7 1086.7,638 1084,641.3 1080,642 1075.3,638 1071.2,633.8 M1238.5,519 1258,530.2 M1238.5,519 1236,524 1234,528 1231,537 1234,544 1237.5,550 1240.5,554.5 1233.2,558.5 1230.3,560.8 1225,562.5 M1226,498.8 1230,504.5 1233,508 1234,512 1237.5,517 1238.5,519 M1124.4,493.6 1124.4,498.8 1226,498.8 M1270,496.8 1268.5,510 1268,520 1262.2,527.2 M1274,476 1272,485 1270,496.8 M1271.1,410.6 1270.4,414.5 1271.1,419.8 1271.9,425 1271.5,430.3 1269.6,434 1269.3,437.8 1270.4,443 1270.8,447.5 1269.3,449.8 1270,452 1273,452.4 1273.4,458.8 1273.4,470 1274,476 M1274,476 1290,476 1318,477.2 1322,475.5 1327.5,473.2 M1312,410.6 1312.4,413.8 1311.3,416.8 1312.8,420.5 1312.4,422.8 1309.8,425.8 1306,428.4 1303,429.9 1301.9,432.5 1300.8,437 1298.5,442.3 1296.3,447.5 1294,452 1293.3,457.3 1292.5,462.5 1291,468.5 1290.3,473 1290,476 M1270,496.8 1284,497.6 1307.5,497.2 1317,497 M1307.5,497.2 1307.5,517.3 M1317,497 1318.5,500 1320,503 1322,507 1324,511 M1325.6,401.5 1325.1,417.5 1325.9,432.5 1326.6,447.5 1327,457.3 1328.9,461 1331,464.5 M883.6,363.6 887,368 896,370.4 900,372.5 906,373.5 912,376 918,378.5 925,379.5 931,381.5 935,385 938,389 938.5,394 937.5,398 940,400 941,397.5 943,399 942.5,403 943.2,404 M1189.5,617.9 1193.3,622 1197.3,625.7 1200.7,627.5 M1192.1,633.1 1194.7,636.3 1197.5,638.8 M1188.1,640.5 1191.5,641.9 1194.7,645.3 1196.8,648.1"/>
</g>
<g id="titles">
<text x="24.8" y="140" font-size="54.17" font-weight="700" fill="#000">Direction of Fatal Police Violence Rate Trends by State, 2013–2025</text>
<text x="24.4" y="208" font-size="45.83" fill="#4d4d4d">Rate per 100,000 residents; OLS slope direction (most trends are small/noisy — see text)</text>
<text x="24.9" y="1092.4" font-size="37.5" fill="#78909c">Contiguous 48 states shown; AK, HI, and DC excluded. Source: Mapping Police Violence; ACS population estimates</text>
</g>
<g id="legend">
<text x="1559" y="548" font-size="50" fill="#000">Rate trend</text>
<text x="1559" y="602" font-size="50" fill="#000">(2013–2025)</text>
<rect x="1561.9" y="634.8" width="65.7" height="65.3" fill="#2e7d32"/>
<rect x="1561.9" y="706.9" width="65.7" height="65.3" fill="#c62828"/>
<text x="1655.4" y="681.5" font-size="40" fill="#000">Declining rate</text>
<text x="1655.4" y="753.8" font-size="40" fill="#000">Rising rate</text>
</g>

</svg>
</body></html>
